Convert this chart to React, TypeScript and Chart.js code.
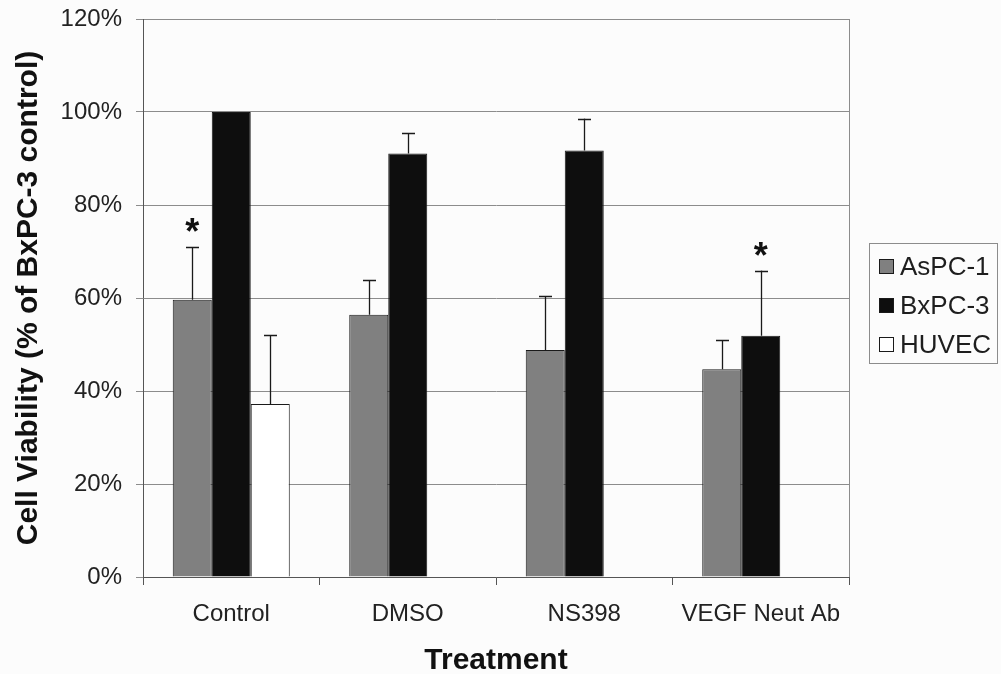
import React, { useEffect, useRef } from 'react';
import { Chart, registerables } from 'chart.js';

Chart.register(...registerables);

const categories = ['Control', 'DMSO', 'NS398', 'VEGF Neut Ab'];
const seriesNames = ['AsPC-1', 'BxPC-3', 'HUVEC'];
const asPC1 = [59.6, 56.4, 48.8, 44.7];
const bxPC3 = [100, 91.1, 91.7, 51.9];
const huvec = [37.2, null, null, null];
const asPC1Err = [11.4, 7.5, 11.6, 6.2];
const bxPC3Err = [null, 4.4, 6.9, 14.0];
const huvecErr = [14.8, null, null, null];
const asPC1Star = [true, false, false, false];
const bxPC3Star = [false, false, false, true];
const huvecStar = [false, false, false, false];
const yTicks = [0, 20, 40, 60, 80, 100, 120];

const seriesColors = ['#808080', '#0e0e0e', '#ffffff'];
const FONT = '"Liberation Sans", Arial, Helvetica, sans-serif';

const errors = [asPC1Err, bxPC3Err, huvecErr];
const stars = [asPC1Star, bxPC3Star, huvecStar];

const overlayPlugin = {
  id: 'overlay',
  beforeDraw(chart: any) {
    const ctx = chart.ctx;
    ctx.save();
    ctx.fillStyle = '#fcfcfc';
    ctx.fillRect(0, 0, chart.width, chart.height);
    ctx.restore();
  },
  afterDatasetsDraw(chart: any) {
    const ctx = chart.ctx;
    const yScale = chart.scales.y;
    const area = chart.chartArea;
    ctx.save();
    ctx.strokeStyle = '#8c8c8c';
    ctx.lineWidth = 1;
    ctx.beginPath();
    ctx.moveTo(Math.round(area.right) + 0.5, area.top);
    ctx.lineTo(Math.round(area.right) + 0.5, area.bottom);
    ctx.stroke();

    chart.data.datasets.forEach((ds: any, di: number) => {
      const meta = chart.getDatasetMeta(di);
      meta.data.forEach((bar: any, i: number) => {
        const v = ds.data[i];
        if (v === null || v === undefined) return;
        const err = errors[di][i];
        const x = Math.round(bar.x) + 0.5;
        let capY = yScale.getPixelForValue(v);
        if (err !== null && err !== undefined) {
          capY = yScale.getPixelForValue(v + err);
          const topY = yScale.getPixelForValue(v);
          ctx.strokeStyle = '#1a1a1a';
          ctx.lineWidth = 1.3;
          ctx.beginPath();
          ctx.moveTo(x, topY);
          ctx.lineTo(x, capY);
          ctx.moveTo(x - 6.5, Math.round(capY) + 0.5);
          ctx.lineTo(x + 6.5, Math.round(capY) + 0.5);
          ctx.stroke();
        }
        if (stars[di][i]) {
          ctx.fillStyle = '#111';
          ctx.font = 'bold 36px ' + FONT;
          ctx.textAlign = 'center';
          ctx.textBaseline = 'alphabetic';
          ctx.fillText('*', bar.x, capY - 3);
        }
      });
    });
    ctx.restore();
  },
  afterDraw(chart: any) {
    const ctx = chart.ctx;
    ctx.save();
    ctx.strokeStyle = '#8c8c8c';
    ctx.lineWidth = 1;
    ctx.strokeRect(869.5, 243.5, 128, 120);
    const rows = [267, 306, 345];
    chart.data.datasets.forEach((ds: any, di: number) => {
      const cy = rows[di];
      ctx.fillStyle = ds.backgroundColor;
      ctx.fillRect(879, cy - 8, 15, 15);
      ctx.strokeStyle = '#1a1a1a';
      ctx.strokeRect(879.5, cy - 7.5, 14, 14);
      ctx.fillStyle = '#1e1e1e';
      ctx.font = '26px ' + FONT;
      ctx.textAlign = 'left';
      ctx.textBaseline = 'middle';
      ctx.fillText(ds.label, 900, cy + 1);
    });
    ctx.restore();
  },
};

export default function App() {
  const ref = useRef<HTMLCanvasElement>(null);
  useEffect(() => {
    const canvas = ref.current;
    if (!canvas) return;
    const chart = new Chart(canvas, {
      type: 'bar',
      data: {
        labels: categories,
        datasets: [asPC1, bxPC3, huvec].map((d, i) => ({
          label: seriesNames[i],
          data: d as any,
          backgroundColor: seriesColors[i],
          borderColor: '#1a1a1a',
          borderWidth: 1,
          barPercentage: 1,
          categoryPercentage: 0.663,
        })),
      },
      options: {
        responsive: false,
        animation: false,
        events: [],
        layout: { padding: { top: 19, right: 152, left: 0, bottom: 0 } },
        plugins: {
          legend: { display: false },
          tooltip: { enabled: false },
        },
        scales: {
          x: {
            afterFit: (s: any) => { s.height = 97; s.paddingLeft = 0; s.paddingRight = 0; },
            grid: {
              display: true,
              drawOnChartArea: false,
              drawTicks: true,
              tickLength: 8,
              offset: true,
              color: '#555',
            },
            border: { display: true, color: '#555', width: 1 },
            ticks: {
              color: '#222',
              font: { family: FONT, size: 24 },
              padding: 15,
              maxRotation: 0,
            },
            title: {
              display: true,
              text: 'Treatment',
              color: '#111',
              font: { family: FONT, size: 30, weight: 'bold', lineHeight: 0.9 },
              padding: { top: 0, bottom: 0 },
            },
          },
          y: {
            min: 0,
            max: 120,
            afterFit: (s: any) => { s.width = 143; s.paddingTop = 0; s.paddingBottom = 0; },
            afterBuildTicks: (s: any) => { s.ticks = yTicks.map((v) => ({ value: v })); },
            grid: { color: '#8c8c8c', tickLength: 7, drawTicks: true },
            border: { display: true, color: '#555', width: 1 },
            ticks: {
              color: '#222',
              font: { family: FONT, size: 24 },
              padding: 14,
              callback: (v: any) => v + '%',
            },
            title: {
              display: true,
              text: 'Cell Viability (% of BxPC-3 control)',
              color: '#111',
              font: { family: FONT, size: 30, weight: 'bold', lineHeight: 1 },
              padding: { top: 14, bottom: 0 },
            },
          },
        },
      },
      plugins: [overlayPlugin],
    });
    return () => chart.destroy();
  }, []);
  return (
    <div style={{ position: 'absolute', left: 0, top: 0, width: 1001, height: 674 }}>
      <canvas ref={ref} width={1001} height={674} style={{ display: 'block', width: 1001, height: 674 }} />
    </div>
  );
}
